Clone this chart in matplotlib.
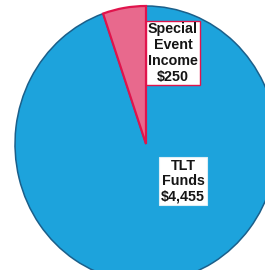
import matplotlib
matplotlib.use("Agg")
import matplotlib.pyplot as plt

labels = ["Special\nEvent\nIncome\n$250", "TLT\nFunds\n$4,455"]
values = [250, 4455]
colors = ["#E8698D", "#1DA3DC"]
edges = ["#E0144C", "#1B5F8A"]
edge_widths = [1.6, 1.1]

W, H = 265, 270
sx = 138 / 131.0  # horizontal squash of the original image

fig = plt.figure(figsize=(2.65, 2.70), dpi=100)
ax = fig.add_axes([0, 0, 1, 1])

wedges, _ = ax.pie(values, colors=colors, startangle=90, counterclock=True,
                   center=(146 * sx, H - 144), radius=138, frame=True)
for w, ec, lw in zip(wedges, edges, edge_widths):
    w.set_edgecolor(ec)
    w.set_linewidth(lw)
wedges[0].set_zorder(3)
ax.set_aspect("auto")
ax.set_xlim(0, W * sx)
ax.set_ylim(0, H)
ax.axis("off")

ax.text(173 / W, 1 - 53 / H, labels[0], transform=ax.transAxes,
        ha="center", va="center", fontsize=10.3, zorder=5,
        fontweight="bold", family="Liberation Sans", linespacing=1.16, color="#151515",
        bbox=dict(boxstyle="square,pad=0.12", fc="white", ec="#E0144C", lw=1.0))
ax.text(183 / W, 1 - 181 / H, labels[1], transform=ax.transAxes,
        ha="center", va="center", fontsize=10.3, zorder=5,
        fontweight="bold", family="Liberation Sans", linespacing=1.12, color="#151515",
        bbox=dict(boxstyle="square,pad=0.12", fc="white", ec="#DDEEF6", lw=0.8))

fig.savefig("out.png", dpi=100)
